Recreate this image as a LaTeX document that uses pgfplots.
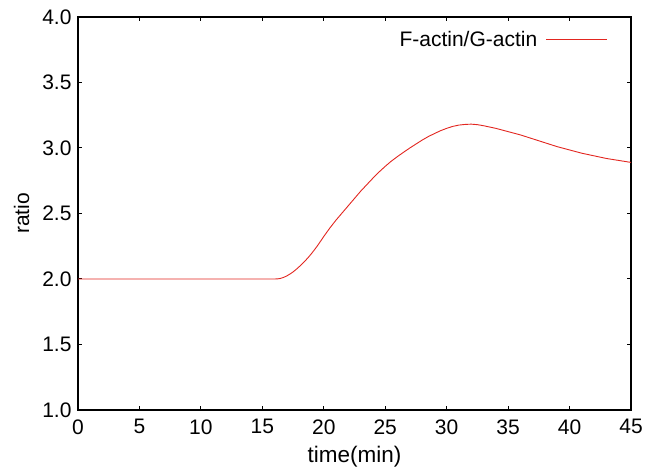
\documentclass[border=0pt]{standalone}
\usepackage{pgfplots}
\pgfplotsset{compat=1.18}
\usepackage{fontspec}
\setmainfont{Liberation Sans}
\definecolor{gpred}{RGB}{226,38,32}
\begin{document}
\begin{tikzpicture}
\begin{axis}[
  scale only axis,
  width=553pt, height=393pt,
  xmin=0, xmax=45, ymin=1, ymax=4,
  xtick={0,5,...,45},
  ytick={1,1.5,...,4},
  yticklabel style={xshift=-3pt},
  y tick label style={/pgf/number format/fixed,/pgf/number format/fixed zerofill,/pgf/number format/precision=1},
  /pgf/number format/assume math mode=true,
  tick align=inside,
  major tick length=4pt,
  tick style={black, line width=1pt},
  axis line style={black, line width=1.3pt},
  ticklabel style={font=\fontsize{21}{25}\selectfont},
  xlabel={time(min)}, ylabel={ratio},
  label style={font=\fontsize{21}{25}\selectfont},
  xlabel style={yshift=-5pt, font=\fontsize{22.5}{26}\selectfont},
  ylabel style={yshift=6pt},
  xticklabel style={yshift=-6pt},
  legend style={draw=none, fill=none, at={(1,1)}, anchor=north east, xshift=-20pt, yshift=-10pt, font=\fontsize{21}{25}\selectfont, /tikz/column sep=6pt},
  legend plot pos=right,
  legend cell align=right,
  legend image code/.code={\draw[#1, line width=1.6pt] (0pt,0pt) -- (61pt,0pt);},
]
\addplot[gpred, line width=0.9pt] coordinates {
(0,2.0) (16,2.0) (16.25,2.001) (16.5,2.005) (16.75,2.013) (17,2.024) (17.25,2.038) (17.5,2.054) (17.75,2.073) (18,2.094) (18.25,2.116) (18.5,2.14) (18.75,2.166) (19,2.194) (19.25,2.224) (19.5,2.256) (19.75,2.29) (20,2.325) (20.5,2.39) (21,2.45) (21.5,2.505) (22,2.56) (22.5,2.615) (23,2.67) (23.5,2.72) (24,2.77) (24.5,2.817) (25,2.86) (25.5,2.9) (26,2.935) (26.5,2.968) (27,3.00) (27.5,3.03) (28,3.06) (28.5,3.087) (29,3.11) (29.5,3.132) (30,3.15) (30.5,3.165) (31,3.175) (31.5,3.18) (32,3.182) (32.5,3.178) (33,3.17) (34,3.15) (35,3.125) (36,3.10) (37,3.07) (38,3.04) (39,3.01) (40,2.985) (41,2.96) (42,2.94) (43,2.92) (44,2.905) (45,2.89)
};
\addlegendentry{F-actin/G-actin}
\end{axis}
\path (current axis.south west) ++(-78pt,-55pt) (current axis.north east) ++(23pt,17pt);
\end{tikzpicture}
\end{document}
